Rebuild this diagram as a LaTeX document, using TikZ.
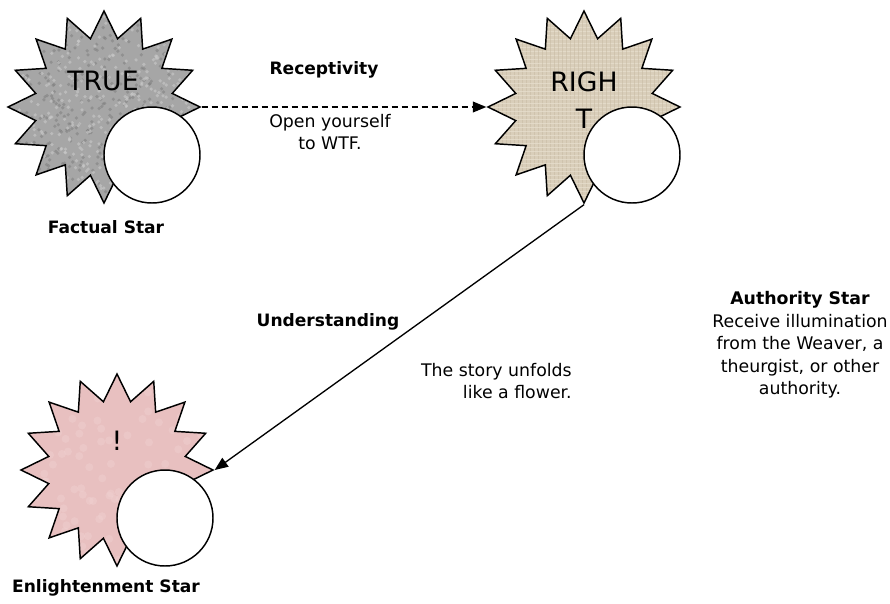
\documentclass[tikz,border=0pt]{standalone}
\usepackage{fontspec}
\setmainfont{DejaVu Sans}
\usetikzlibrary{shapes.geometric,arrows.meta}
\definecolor{granite}{HTML}{A6A6A6}
\definecolor{graniteD}{HTML}{7E7E7E}
\definecolor{graniteL}{HTML}{CACACA}
\definecolor{linen}{HTML}{D9CEBA}
\definecolor{linenL}{HTML}{E6DDCC}
\definecolor{linenD}{HTML}{C6B9A2}
\definecolor{rosy}{HTML}{E8C0C0}
\definecolor{rosyL}{HTML}{EFCFCF}
\begin{document}
\begin{tikzpicture}[x=0.75pt,y=-0.75pt,
  starburst/.style={star,star points=16,star point ratio=1.38,minimum size=144pt,inner sep=0pt,draw=black,line width=1.1pt},
  disc/.style={circle,minimum size=72pt,inner sep=0pt,draw=black,fill=white,line width=1.1pt},
  big/.style={font=\fontsize{20}{28}\selectfont,inner sep=0pt,align=center},
  lbl/.style={font=\bfseries\fontsize{12.8}{16.5}\selectfont,inner sep=0pt},
  txt/.style={font=\fontsize{13}{16.9}\selectfont,inner sep=0pt},
  conn/.style={line width=1pt,-{Triangle[length=10pt,width=8pt]}}]
\useasboundingbox (0,0) rectangle (890,604);
\pgfmathsetseed{7}
% stars
\node[starburst,fill=granite,path picture={
  \begin{scope}[shift={(path picture bounding box.center)}]
  \foreach \i in {1,...,500}{
    \pgfmathsetmacro\rx{rand*96}\pgfmathsetmacro\ry{rand*96}
    \fill[graniteD,opacity=0.55] (\rx,\ry) circle (1.8);}
  \foreach \i in {1,...,500}{
    \pgfmathsetmacro\rx{rand*96}\pgfmathsetmacro\ry{rand*96}
    \fill[graniteL,opacity=0.6] (\rx,\ry) circle (1.8);}
  \end{scope}}] (s1) at (104,107) {};
\node[starburst,fill=linen,path picture={
  \begin{scope}[shift={(path picture bounding box.center)}]
  \foreach \k in {-96,-92,...,96}{
    \draw[linenL,line width=0.6pt,opacity=0.8] (-96,\k) -- (96,\k);
    \draw[linenD,line width=0.4pt,opacity=0.5] (\k+2,-96) -- (\k+2,96);}
  \end{scope}}] (s2) at (584,107) {};
\node[starburst,fill=rosy,path picture={
  \begin{scope}[shift={(path picture bounding box.center)}]
  \foreach \i in {1,...,120}{
    \pgfmathsetmacro\rx{rand*96}\pgfmathsetmacro\ry{rand*96}
    \fill[rosyL,opacity=0.5] (\rx,\ry) circle (4);}
  \end{scope}}] (s3) at (117,470) {};
% discs
\node[disc] (c1) at (152,155) {};
\node[disc] (c2) at (632,155) {};
\node[disc] (c3) at (165,518) {};
% star texts
\node[big] (t1) at (103,81) {TRUE};
\node[big] (t2) at (584,100) {RIGH\\T};
\node[big] (t3) at (117,441) {!};
% labels
\node[lbl] (l1) at (106,227) {Factual Star};
\node[lbl] (l3) at (106,588) {Enlightenment Star};
\node[lbl] (rc) at (324,70) {Receptivity};
\node[txt,align=center] (oy) at (330,132) {Open yourself\\to WTF.};
\node[lbl] (un) at (328,322) {Understanding};
\node[txt,align=right,anchor=east] (st) at (572,381) {The story unfolds\\like a flower.};
\node[txt,align=center] (au) at (800,345) {\textbf{Authority Star}\\Receive illumination\\from the Weaver, a\\theurgist, or other\\authority.};
% connectors
\draw[conn,dashed,dash pattern=on 4.5pt off 3pt] (s1.east) -- (s2.west);
\draw[conn] (s2.south) -- (s3.east);
\end{tikzpicture}
\end{document}
